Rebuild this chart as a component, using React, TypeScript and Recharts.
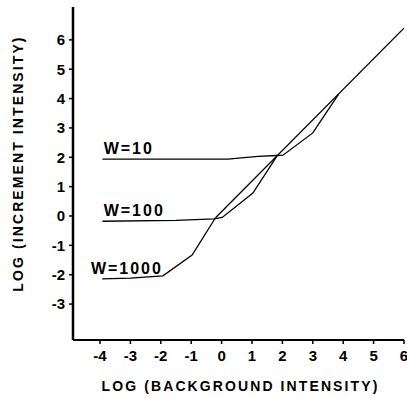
import React from 'react';
import { LineChart, Line, XAxis, YAxis, ReferenceDot, Label } from 'recharts';

// Curve W=10
const w10X = [-3.92, 0.2, 1.2, 1.82, 2.02, 3.0, 3.85];
const w10Y = [1.94, 1.94, 2.03, 2.06, 2.07, 2.83, 4.15];
// Curve W=100
const w100X = [-3.92, -1.5, -0.25, 0.02, 1.03, 1.82];
const w100Y = [-0.18, -0.15, -0.1, -0.05, 0.78, 2.04];
// Curve W=1000
const w1000X = [-3.93, -3.0, -1.93, -0.97, -0.2];
const w1000Y = [-2.14, -2.12, -2.04, -1.33, -0.06];
// Common asymptote
const asymX = [-0.2, 6.0];
const asymY = [-0.06, 6.4];

const curveLabels = ['W=10', 'W=100', 'W=1000'];
const labelX = [-3.88, -3.88, -4.3];
const labelY = [1.94, -0.18, -2.14];

const xTicks = [-4, -3, -2, -1, 0, 1, 2, 3, 4, 5, 6];
const yTicks = [-3, -2, -1, 0, 1, 2, 3, 4, 5, 6];

const xTitle = 'LOG (BACKGROUND INTENSITY)';
const yTitle = 'LOG (INCREMENT INTENSITY)';

const zip = (xs: number[], ys: number[]) => xs.map((x, i) => ({ x, y: ys[i] }));

const FONT = '"Liberation Sans", Arial, Helvetica, sans-serif';

const tickStyle = { fill: '#000', fontSize: 15, fontWeight: 700, fontFamily: FONT };

const XTitle = (props: any) => {
  const vb = props.viewBox || { x: 73, y: 340, width: 331, height: 58 };
  return (
    <text
      x={vb.x + vb.width / 2 + 2}
      y={vb.y + 51}
      textAnchor="middle"
      fontFamily={FONT}
      fontWeight={700}
      fontSize={14}
      letterSpacing={2.1}
      fill="#000"
    >
      {xTitle}
    </text>
  );
};

const YTitle = (props: any) => {
  const vb = props.viewBox || { x: 0, y: 7, width: 73, height: 333 };
  const cx = vb.x + 23;
  const cy = vb.y + vb.height / 2 - 10;
  return (
    <text
      x={cx}
      y={cy}
      transform={`rotate(-90, ${cx}, ${cy})`}
      textAnchor="middle"
      fontFamily={FONT}
      fontWeight={700}
      fontSize={14}
      letterSpacing={2.1}
      fill="#000"
    >
      {yTitle}
    </text>
  );
};

const makeCurveLabel = (text: string) => (props: any) => {
  const vb = props.viewBox || { x: 0, y: 0 };
  return (
    <text
      x={vb.x}
      y={vb.y - 5}
      textAnchor="start"
      fontFamily={FONT}
      fontWeight={700}
      fontSize={16}
      letterSpacing={2}
      fill="#000"
    >
      {text}
    </text>
  );
};

export default function App() {
  return (
    <div style={{ position: 'absolute', left: 0, top: 0, background: '#fff' }}>
      <LineChart
        width={407}
        height={398}
        margin={{ top: 7, right: 3, bottom: 0, left: 0 }}
      >
        <XAxis
          type="number"
          dataKey="x"
          domain={[-4.888, 6]}
          allowDataOverflow
          ticks={xTicks}
          interval={0}
          height={58}
          axisLine={{ stroke: '#000', strokeWidth: 2 }}
          tickLine={{ stroke: '#000', strokeWidth: 1.5 }}
          tickSize={4}
          tickMargin={6}
          tick={tickStyle}
        >
          <Label content={<XTitle />} />
        </XAxis>
        <YAxis
          type="number"
          dataKey="y"
          domain={[-4.225, 7.12]}
          allowDataOverflow
          ticks={yTicks}
          interval={0}
          width={73}
          axisLine={{ stroke: '#000', strokeWidth: 2.5 }}
          tickLine={{ stroke: '#000', strokeWidth: 1.5 }}
          tickSize={4}
          tickMargin={4}
          tick={tickStyle}
        >
          <Label content={<YTitle />} />
        </YAxis>
        <Line data={zip(asymX, asymY)} dataKey="y" type="linear" stroke="#000" strokeWidth={1.3} dot={false} isAnimationActive={false} />
        <Line data={zip(w10X, w10Y)} dataKey="y" type="linear" stroke="#000" strokeWidth={1.3} dot={false} isAnimationActive={false} />
        <Line data={zip(w100X, w100Y)} dataKey="y" type="linear" stroke="#000" strokeWidth={1.3} dot={false} isAnimationActive={false} />
        <Line data={zip(w1000X, w1000Y)} dataKey="y" type="linear" stroke="#000" strokeWidth={1.3} dot={false} isAnimationActive={false} />
        {curveLabels.map((t, i) => (
          <ReferenceDot
            key={t}
            x={labelX[i]}
            y={labelY[i]}
            r={0}
            fill="none"
            stroke="none"
            ifOverflow="visible"
            label={makeCurveLabel(t)}
          />
        ))}
      </LineChart>
    </div>
  );
}
